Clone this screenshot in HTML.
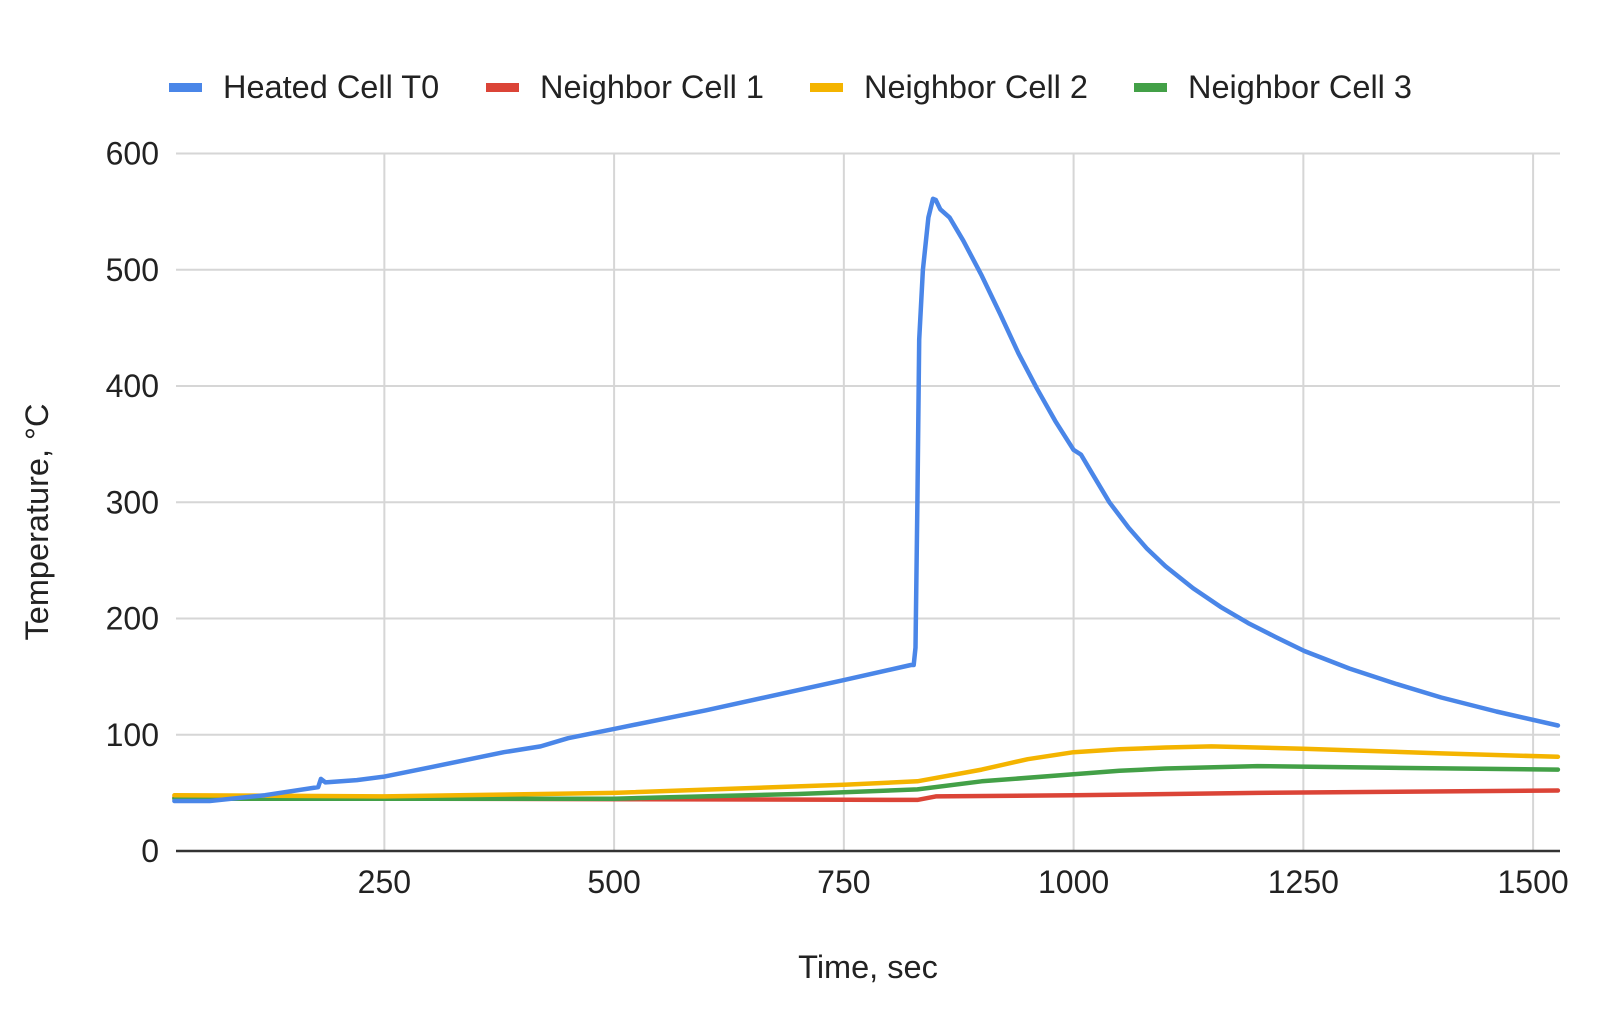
<!DOCTYPE html>
<html><head><meta charset="utf-8"><style>
html,body{margin:0;padding:0;background:#fff}
svg{display:block;font-family:"Liberation Sans",Arial,sans-serif}
</style></head><body>
<svg id="c" width="1600" height="1036" xmlns="http://www.w3.org/2000/svg">
<g id="grid" stroke="#d6d6d6" stroke-width="2"></g>
<g id="lbl" font-size="32" fill="#222"></g>
<line x1="176" y1="851" x2="1560" y2="851" stroke="#333" stroke-width="2.5"/>
<g fill="none" stroke-width="4.5" stroke-linejoin="round" stroke-linecap="round">
<path id="red" stroke="#db4437"/>
<path id="grn" stroke="#43a047"/>
<path id="yel" stroke="#f4b400"/>
<path id="blu" stroke="#4a86e8"/>
</g>
<g font-size="32.5" fill="#222">
<rect x="169" y="83" width="33" height="9" fill="#4a86e8"/><text x="223" y="98">Heated Cell T0</text>
<rect x="486" y="83" width="33" height="9" fill="#db4437"/><text x="540" y="98">Neighbor Cell 1</text>
<rect x="810" y="83" width="33" height="9" fill="#f4b400"/><text x="864" y="98">Neighbor Cell 2</text>
<rect x="1134" y="83" width="33" height="9" fill="#43a047"/><text x="1188" y="98">Neighbor Cell 3</text>
<text x="868" y="978" text-anchor="middle">Time, sec</text>
<text transform="translate(48,522) rotate(-90)" text-anchor="middle">Temperature, °C</text>
</g>
</svg>
<script>
var X=function(s){return 154.6+s*0.919},Y=function(t){return 851-t*1.1625};
var ns="http://www.w3.org/2000/svg",g=document.getElementById('grid'),l=document.getElementById('lbl');
function el(p,tag,a,txt){var e=document.createElementNS(ns,tag);for(var k in a)e.setAttribute(k,a[k]);if(txt)e.textContent=txt;p.appendChild(e);}
for(var t=100;t<=600;t+=100)el(g,'line',{x1:176,x2:1560,y1:Y(t),y2:Y(t)});
for(var s=250;s<=1500;s+=250)el(g,'line',{x1:X(s),x2:X(s),y1:Y(600),y2:851});
for(var t=0;t<=600;t+=100)el(l,'text',{x:159,y:Y(t)+11,'text-anchor':'end'},''+t);
for(var s=250;s<=1500;s+=250)el(l,'text',{x:X(s),y:893,'text-anchor':'middle'},''+s);
function P(id,d){document.getElementById(id).setAttribute('d',d.map(function(p,i){return(i?'L':'M')+X(p[0]).toFixed(1)+' '+Y(p[1]).toFixed(1)}).join(''));}
P('blu',[[21.5,43],[60,43],[120,48],[178,55],[181,62],[186,59],[220,61],[250,64],[300,72],[380,85],[420,90],[450,97],[500,105],[600,121],[750,147],[823,160],[826,160],[828,175],[830,300],[832,440],[836,500],[842,545],[847,561],[850,560],[855,552],[865,545],[880,525],[900,495],[920,462],[940,428],[960,398],[980,370],[1000,345],[1008,341],[1020,325],[1039,300],[1060,278],[1080,260],[1100,245],[1130,226],[1160,210],[1190,196],[1220,184],[1251,172],[1300,157],[1350,144],[1400,132],[1460,120],[1527,108]]);
P('yel',[[21.5,48],[250,47],[500,50],[750,57],[830,60],[900,70],[950,79],[1000,85],[1050,87.5],[1100,89],[1150,90],[1250,88],[1400,84],[1527,81]]);
P('grn',[[21.5,45],[500,45],[700,49],[830,53],[900,60],[1000,66],[1050,69],[1100,71],[1200,73],[1300,72],[1527,70]]);
P('red',[[21.5,46],[300,45],[830,44],[850,47],[1000,48],[1200,50],[1527,52]]);
</script>
</body></html>
